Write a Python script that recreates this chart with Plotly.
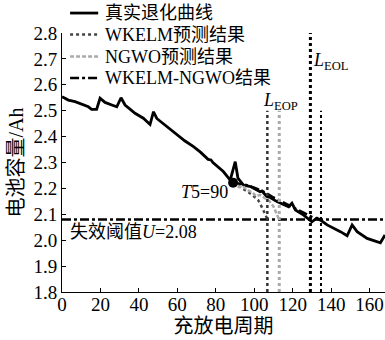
import plotly.graph_objects as go

# True degradation curve (cycle, capacity Ah)
true_x = [0, 3.3, 6.8, 10.2, 13.7, 15.4, 18, 19.8, 22.4, 25.9, 28.5, 30.7, 32.8, 38, 42.3,
          45.8, 47.6, 49.3, 53.6, 59.7, 64, 68.4, 72, 76, 77.5, 78.5, 83.9, 87.5, 90.1, 91.5,
          94.4, 98, 101.4, 103, 104, 106.6, 108.3, 111.8, 117.9, 119.6, 121.4, 125.7, 130,
          132.6, 134.4, 137.9, 144.8, 148.3, 150.9, 153.5, 158.7, 165.6, 168]
true_y = [2.554, 2.541, 2.535, 2.525, 2.515, 2.505, 2.505, 2.548, 2.532, 2.522, 2.515, 2.55,
          2.522, 2.49, 2.471, 2.447, 2.496, 2.47, 2.445, 2.406, 2.383, 2.361, 2.34, 2.312,
          2.31, 2.3, 2.265, 2.232, 2.303, 2.24, 2.213, 2.207, 2.194, 2.187, 2.19, 2.168,
          2.165, 2.149, 2.129, 2.143, 2.117, 2.097, 2.071, 2.085, 2.078, 2.059, 2.033, 2.017,
          2.059, 2.033, 2.007, 1.99, 2.02]

# WKELM prediction
wkelm_x = [89, 93, 96, 99, 102, 104.5, 107]
wkelm_y = [2.222, 2.205, 2.19, 2.175, 2.155, 2.12, 2.078]

# NGWO prediction
ngwo_x = [89, 92, 94, 96, 99, 101, 103, 106, 108, 110, 112, 113]
ngwo_y = [2.222, 2.205, 2.21, 2.195, 2.185, 2.17, 2.175, 2.158, 2.15, 2.13, 2.095, 2.078]

# WKELM-NGWO prediction
comb_x = [89, 95, 100, 105, 110, 115, 120, 125, 130, 134.5]
comb_y = [2.222, 2.215, 2.203, 2.187, 2.165, 2.146, 2.128, 2.108, 2.09, 2.078]

# Prediction start point
t5_x = [89]
t5_y = [2.222]

# Failure threshold
threshold = 2.08
x_range = [0, 168]
y_range = [1.8, 2.8]

# Vertical marker lines
eop_wkelm = 106.8
eop_ngwo = 113
eol_true = 129.2
eol_comb = 134.7
eop_top = 2.5
eol_top = 2.8

xticks = [0, 20, 40, 60, 80, 100, 120, 140, 160]
yticks = [1.8, 1.9, 2.0, 2.1, 2.2, 2.3, 2.4, 2.5, 2.6, 2.7, 2.8]

legend_names = ["真实退化曲线", "WKELM预测结果", "NGWO预测结果", "WKELM-NGWO结果"]

FONT = "Liberation Serif, Times New Roman, Noto Sans CJK SC, serif"

styles = [
    dict(color="black", width=2.8, dash="solid"),
    dict(color="#444444", width=2.5, dash="dot"),
    dict(color="#aaaaaa", width=2.5, dash="4px,2px"),
    dict(color="black", width=2.5, dash="dashdot"),
]

fig = go.Figure()

series = [(true_x, true_y), (wkelm_x, wkelm_y), (ngwo_x, ngwo_y), (comb_x, comb_y)]
for (sx, sy), name, st in zip(series, legend_names, styles):
    fig.add_trace(go.Scatter(x=sx, y=sy, mode="lines", name=name, showlegend=False,
                             line=st))

# threshold line
fig.add_trace(go.Scatter(x=x_range, y=[threshold, threshold], mode="lines", showlegend=False,
                         line=dict(color="black", width=2.5, dash="dashdot")))

# vertical lines
vlines = [(eop_wkelm, eop_top, "#333333", 2.5),
          (eop_ngwo, eop_top, "#aaaaaa", 3),
          (eol_true, eol_top, "black", 3),
          (eol_comb, eop_top, "black", 2)]
for vx, vt, col, w in vlines:
    fig.add_trace(go.Scatter(x=[vx, vx], y=[y_range[0], vt], mode="lines", showlegend=False,
                             line=dict(color=col, width=w, dash="dot")))

fig.add_trace(go.Scatter(x=t5_x, y=t5_y, mode="markers", showlegend=False,
                         marker=dict(color="black", size=10)))

# Manual legend (paper coordinates)
leg_rows = [1.077, 0.994, 0.909, 0.826]
for yy, name, st in zip(leg_rows, legend_names, styles):
    fig.add_shape(type="line", xref="paper", yref="paper", x0=0.025, x1=0.112, y0=yy, y1=yy,
                  line=dict(color=st["color"], width=st["width"], dash=st["dash"]))
    fig.add_annotation(xref="paper", yref="paper", x=0.128, y=yy, text=name, showarrow=False,
                       xanchor="left", yanchor="middle",
                       font=dict(family=FONT, size=18, color="black"))

annos = [
    dict(x=113.5, y=2.535, text="<i>L</i><sub>EOP</sub>", xanchor="center", yanchor="middle"),
    dict(x=140, y=2.69, text="<i>L</i><sub>EOL</sub>", xanchor="center", yanchor="middle"),
    dict(x=87.5, y=2.186, text="<i>T</i>5=90", xanchor="right", yanchor="middle"),
    dict(x=3, y=2.032, text="失效阈值<i>U</i>=2.08", xanchor="left", yanchor="middle"),
]
for a in annos:
    fig.add_annotation(showarrow=False, font=dict(family=FONT, size=18, color="black"), **a)

fig.update_layout(
    width=385, height=340,
    margin=dict(l=62, r=0, t=33, b=48),
    paper_bgcolor="white", plot_bgcolor="white",
    font=dict(family=FONT, size=19, color="black"),
    showlegend=False,
    xaxis=dict(range=x_range, tickvals=xticks, showline=True, linecolor="black", linewidth=1,
               ticks="inside", ticklen=4, tickcolor="black", showgrid=False, zeroline=False,
               ticklabelstandoff=-5,
               title=dict(text="充放电周期", standoff=0, font=dict(size=20))),
    yaxis=dict(range=y_range, tickvals=yticks, tickformat=".1f", showline=True,
               linecolor="black", linewidth=1, ticks="inside", ticklen=4, tickcolor="black",
               showgrid=False, zeroline=False,
               title=dict(text="电池容量/Ah", standoff=4, font=dict(size=20))),
)

fig.write_html("out.html")
